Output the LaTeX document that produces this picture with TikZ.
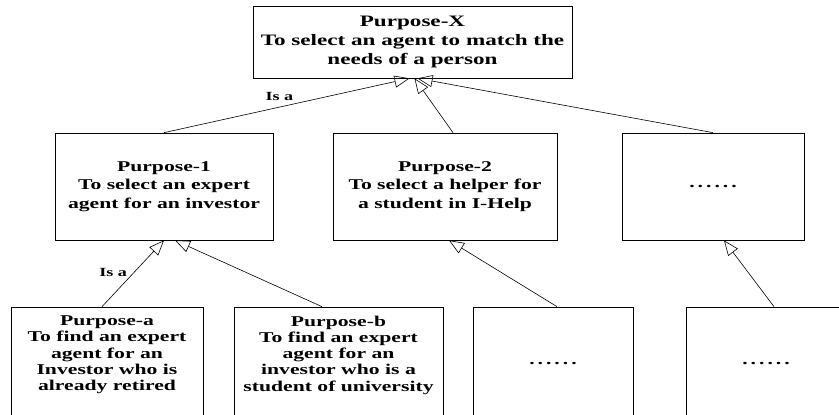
\documentclass[tikz,border=0pt]{standalone}
\usepackage{fontspec}
\setmainfont{Liberation Serif}[FakeStretch=1.45]
\usetikzlibrary{arrows.meta,positioning}
\newcommand{\gapdots}{.\kern3bp.\kern3bp.\kern3bp.\kern3bp.\kern3bp.}

\begin{document}
\begin{tikzpicture}[x=1bp,y=-1bp]
% Styles
\tikzset{
    goal/.style={draw, line width=0.7bp, align=center, inner sep=0pt,
        font=\fontsize{15}{18.5}\selectfont\bfseries},
    goaltext/.style={align=center, inner sep=0pt,
        font=\fontsize{15}{16.3}\selectfont\bfseries},
    isa/.style={-{Triangle[open, length=15bp, width=12bp]}, line width=0.6bp},
    isalabel/.style={inner sep=0pt, font=\fontsize{12.5}{14}\selectfont\bfseries}
}
\useasboundingbox (0,0) rectangle (839,414);

% Nodes
\node[goal, minimum width=319bp, minimum height=72bp,
    font=\fontsize{16}{19}\selectfont\bfseries]
    (X) at (412.5,42) {Purpose-X\\To select an agent to match the\\needs of a person};

\node[goal, minimum width=218bp, minimum height=107bp]
    (P1) at (164,186.5) {Purpose-1\\To select an expert\\agent for an investor};
\node[goal, minimum width=224bp, minimum height=107bp]
    (P2) at (445,186.5) {Purpose-2\\To select a helper for\\a student in I-Help};
\node[goal, minimum width=182bp, minimum height=107bp]
    (P3) at (713,186.5) {\gapdots};

\node[goal, minimum width=192bp, minimum height=113bp]
    (Pa) at (107,363.5) {};
\node[goaltext, below=9bp of Pa.north]
    (Pa text) {Purpose-a\\To find an expert\\agent for an\\Investor who is\\already retired};
\node[goal, minimum width=209bp, minimum height=113bp]
    (Pb) at (338.5,363.5) {};
\node[goaltext, below=9bp of Pb.north]
    (Pb text) {Purpose-b\\To find an expert\\agent for an\\investor who is a\\student of university};
\node[goal, minimum width=160bp, minimum height=113bp]
    (Pc) at (553,363.5) {\gapdots};
\node[goal, minimum width=160bp, minimum height=113bp]
    (Pd) at (766,363.5) {\gapdots};

% Connections
\draw[isa] (P1.north) -- ([xshift=-3bp]X.south)
    node[isalabel, pos=0.47, above=6bp] (isa1) {Is a};
\draw[isa] ([xshift=8bp]P2.north) -- ([xshift=2bp]X.south);
\draw[isa] (P3.north) -- ([xshift=5bp]X.south);

\draw[isa] ([xshift=-5bp]Pa.north) -- (P1.south)
    node[isalabel, pos=0.52, left=7bp] (isa2) {Is a};
\draw[isa] ([xshift=-16.5bp]Pb.north) -- ([xshift=11bp]P1.south);
\draw[isa] ([xshift=4bp]Pc.north) -- ([xshift=4bp]P2.south);
\draw[isa] ([xshift=8bp]Pd.north) -- ([xshift=11bp]P3.south);
\end{tikzpicture}
\end{document}
